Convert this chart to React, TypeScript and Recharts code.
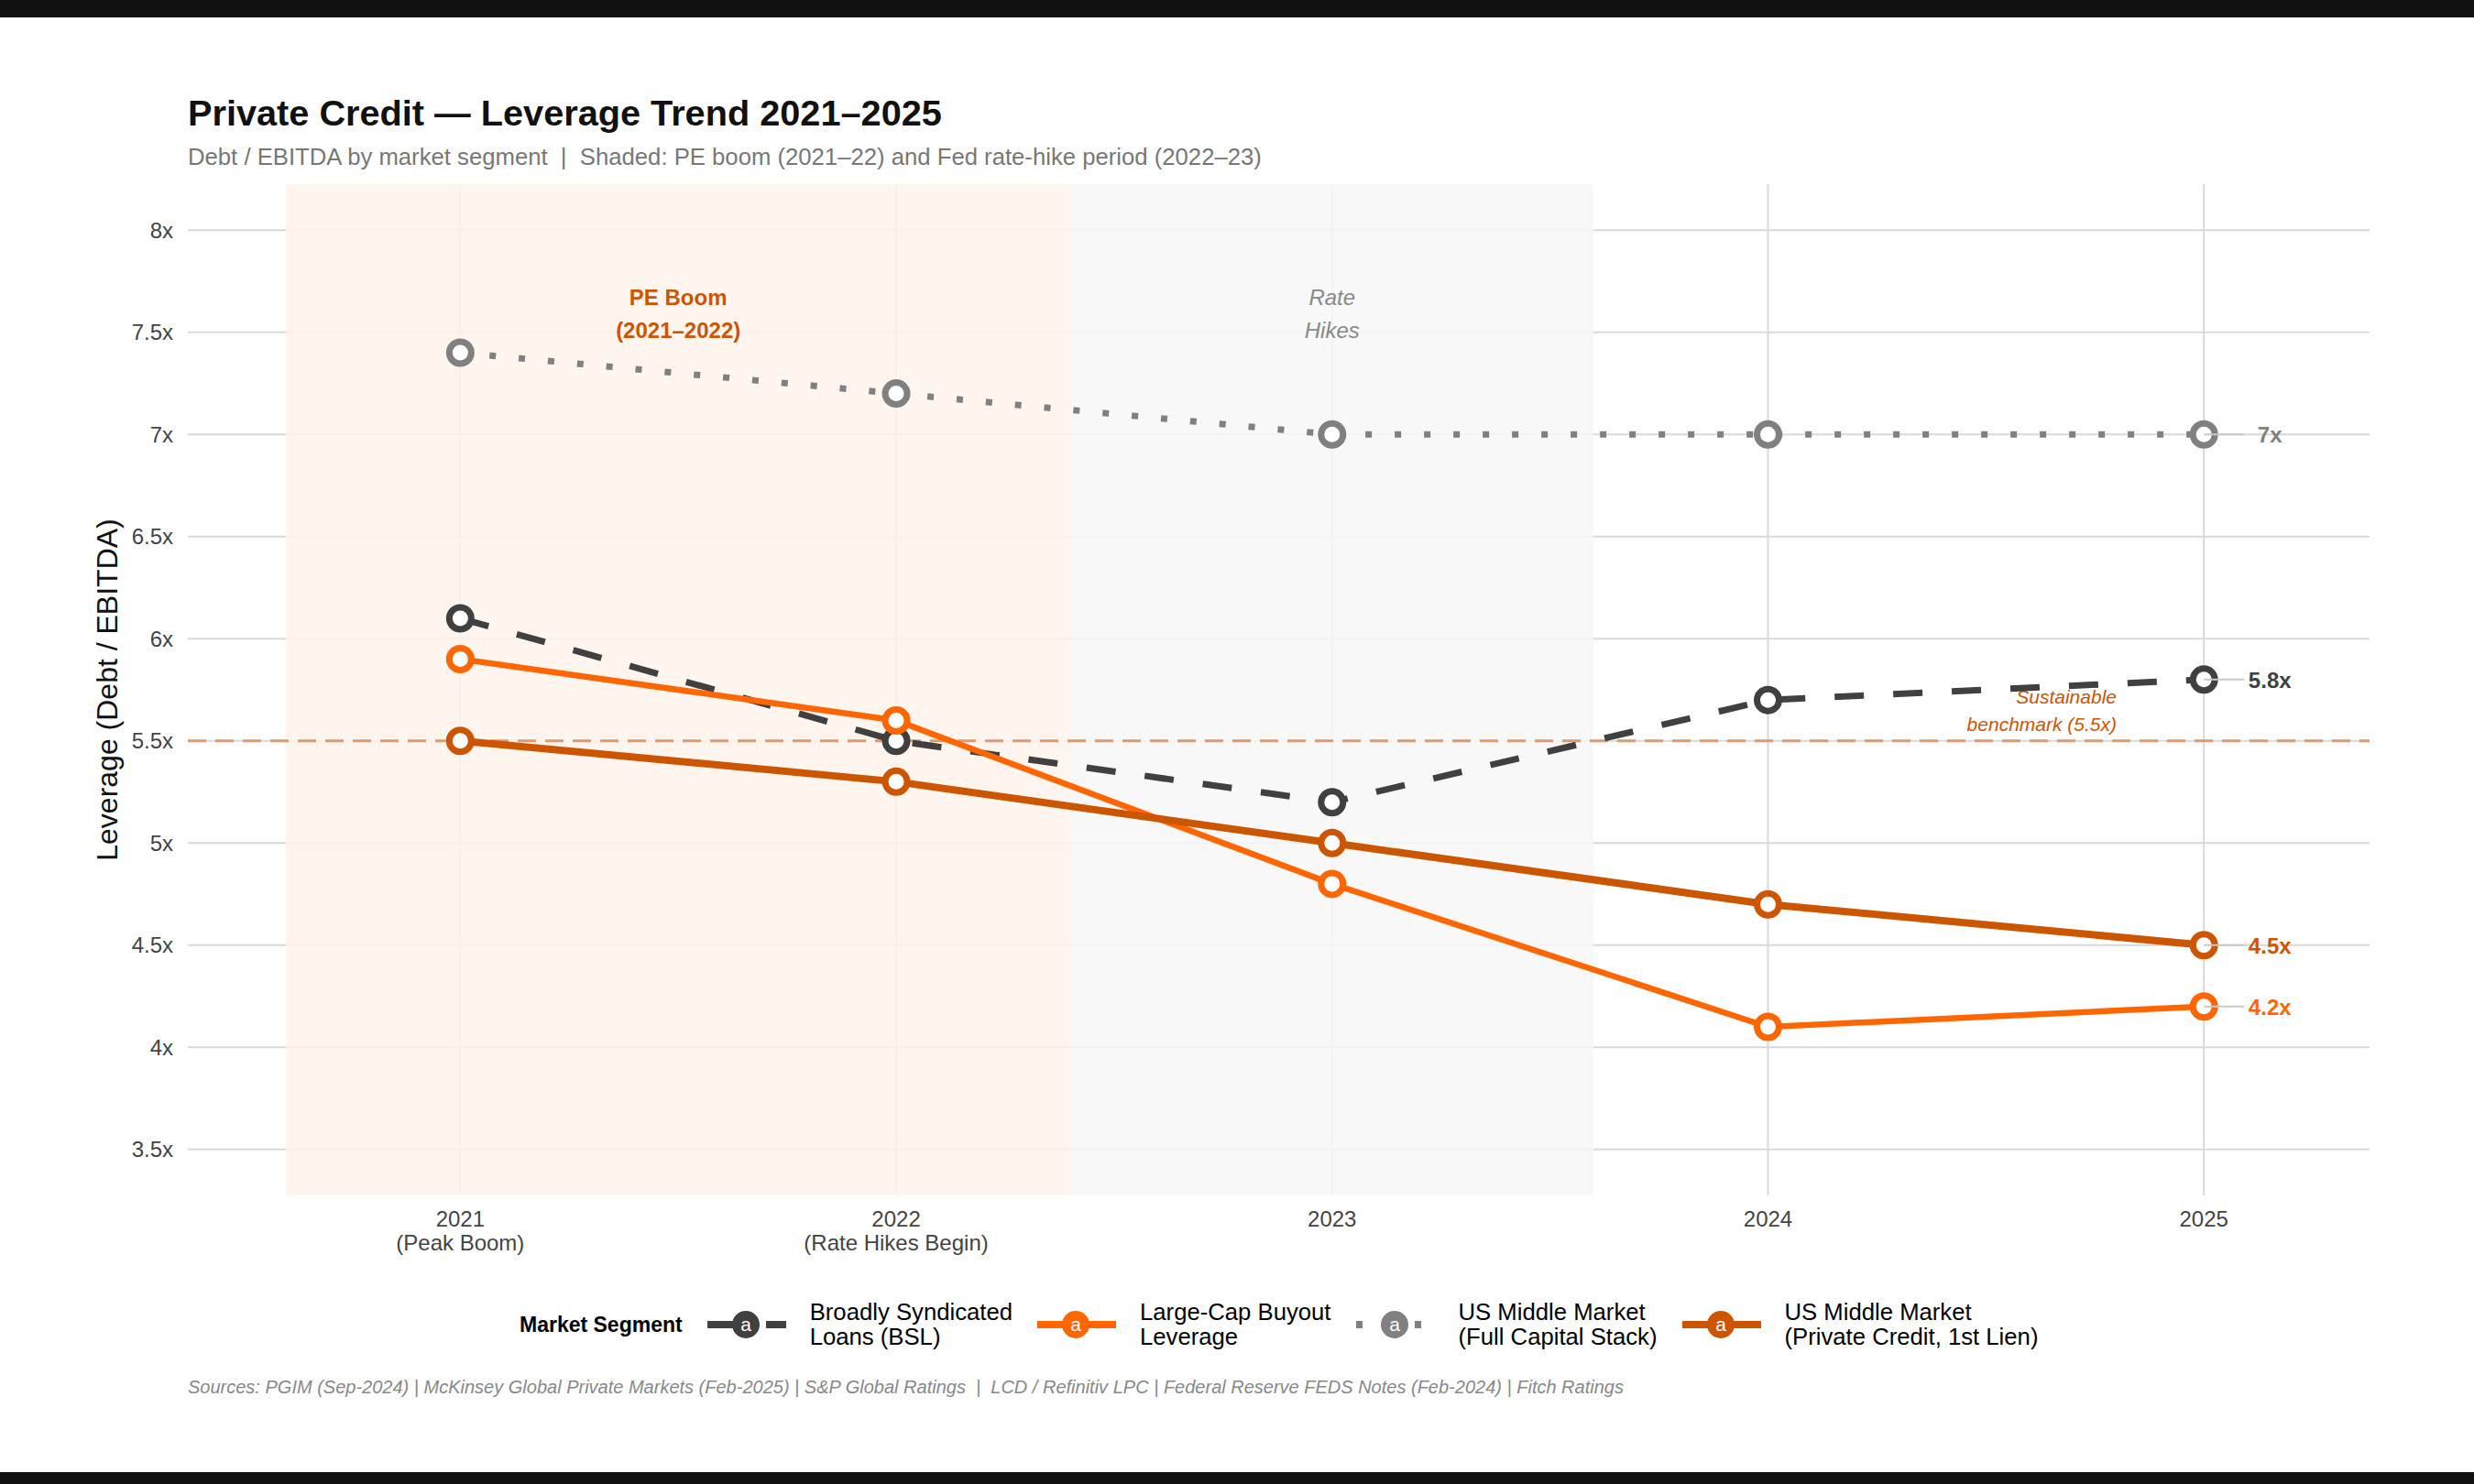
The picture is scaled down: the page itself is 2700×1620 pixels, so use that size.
import React from "react";
import {
  CartesianGrid,
  LabelList,
  Line,
  LineChart,
  ReferenceArea,
  ReferenceLine,
  XAxis,
  YAxis,
} from "recharts";

const FONT = '"Liberation Sans", Arial, Helvetica, sans-serif';

// values (Debt / EBITDA, x)
const years = [2021, 2022, 2023, 2024, 2025];
const yearNotes = ["(Peak Boom)", "(Rate Hikes Begin)", "", "", ""];
const bsl = [6.1, 5.5, 5.2, 5.7, 5.8];
const largeCap = [5.9, 5.6, 4.8, 4.1, 4.2];
const mmFull = [7.4, 7.2, 7.0, 7.0, 7.0];
const mmPrivate = [5.5, 5.3, 5.0, 4.7, 4.5];
const yTicks = [3.5, 4, 4.5, 5, 5.5, 6, 6.5, 7, 7.5, 8];
const benchmark = 5.5;
const peBoom = [2020.6, 2022.4];
const rateHikes = [2022.4, 2023.6];

const X_DOMAIN = [2020.375, 2025.38];
const Y_DOMAIN = [3.275, 8.225];

const rows = years.map((year, i) => ({
  year,
  bsl: bsl[i],
  largeCap: largeCap[i],
  mmFull: mmFull[i],
  mmPrivate: mmPrivate[i],
}));

// drawing order follows the legend order
const SERIES = [
  { key: "bsl", label: ["Broadly Syndicated", "Loans (BSL)"], color: "#404040", width: 7, dash: "32 32", keyDash: "29 35" },
  { key: "largeCap", label: ["Large-Cap Buyout", "Leverage"], color: "#FF6600", width: 6.5 },
  { key: "mmFull", label: ["US Middle Market", "(Full Capital Stack)"], color: "#808080", width: 7, dash: "7 25", keyDash: "7 25" },
  { key: "mmPrivate", label: ["US Middle Market", "(Private Credit, 1st Lien)"], color: "#CC5500", width: 8 },
];

const ringDot = (color: string) => (p: any) => (
  <circle key={`d-${p.index}`} cx={p.cx} cy={p.cy} r={12} fill="#fff" stroke={color} strokeWidth={7} />
);

const endLabel = (color: string) => (p: any) => {
  if (p.index !== years.length - 1) return null;
  const x = Number(p.x);
  const y = Number(p.y);
  return (
    <g>
      <line x1={x} x2={x + 44} y1={y} y2={y} stroke="#c8c8c8" strokeWidth={2} />
      <text x={x + 72} y={y + 9} textAnchor="middle" fontFamily={FONT} fontSize={24} fontWeight={700} fill={color}>
        {`${p.value}x`}
      </text>
    </g>
  );
};

const areaLabel = (lines: string[], style: any) => (p: any) => {
  const vb = p.viewBox || {};
  const cx = vb.x + vb.width / 2;
  return (
    <g>
      {lines.map((t, i) => (
        <text key={t} x={cx} y={vb.y + 132 + i * 36} textAnchor="middle" fontFamily={FONT} fontSize={24} {...style}>
          {t}
        </text>
      ))}
    </g>
  );
};

const benchmarkLabel = (p: any) => {
  const vb = p.viewBox || {};
  const x = vb.x + vb.width - 276;
  return (
    <g fontFamily={FONT} fontSize={21} fontStyle="italic" fill="#CC5500" textAnchor="end">
      <text x={x} y={vb.y - 41}>Sustainable</text>
      <text x={x} y={vb.y - 11}>benchmark (5.5x)</text>
    </g>
  );
};

const YearTick = (p: any) => {
  const i = years.indexOf(p.payload.value);
  return (
    <g fontFamily={FONT} fontSize={24} fill="#444" textAnchor="middle">
      <text x={p.x} y={p.y + 34}>{p.payload.value}</text>
      {yearNotes[i] ? <text x={p.x} y={p.y + 60}>{yearNotes[i]}</text> : null}
    </g>
  );
};

// grid only at the tick values (no frame at the plot edges)
const hLines = (g: any) => {
  const s = g.yAxis && g.yAxis.scale;
  return yTicks.map((t) =>
    typeof s === "function"
      ? s(t)
      : g.offset.top + ((Y_DOMAIN[1] - t) / (Y_DOMAIN[1] - Y_DOMAIN[0])) * g.offset.height
  );
};
const vLines = (g: any) => {
  const s = g.xAxis && g.xAxis.scale;
  return years.map((t) =>
    typeof s === "function"
      ? s(t)
      : g.offset.left + ((t - X_DOMAIN[0]) / (X_DOMAIN[1] - X_DOMAIN[0])) * g.offset.width
  );
};

function LegendKey({ color, dash }: { color: string; dash?: string }) {
  return (
    <svg width={86} height={40} style={{ display: "block" }}>
      <line x1={0} x2={86} y1={20} y2={20} stroke={color} strokeWidth={8} strokeDasharray={dash} />
      <circle cx={42} cy={20} r={15} fill={color} />
      <text x={42} y={27} textAnchor="middle" fontFamily={FONT} fontSize={21} fill="#fff">a</text>
    </svg>
  );
}

export default function App() {
  return (
    <div style={{ position: "absolute", left: 0, top: 0, width: 2700, height: 1620, background: "#fff", fontFamily: FONT }}>
      <div style={{ position: "absolute", left: 0, top: 0, width: 2700, height: 19, background: "#111" }} />
      <div style={{ position: "absolute", left: 0, top: 1607, width: 2700, height: 13, background: "#111" }} />

      <LineChart width={2700} height={1620} data={rows} margin={{ top: 201, right: 114, bottom: 255, left: 105 }}>
        <CartesianGrid
          stroke="#D9D9D9"
          strokeWidth={2}
          horizontalCoordinatesGenerator={hLines}
          verticalCoordinatesGenerator={vLines}
        />
        <ReferenceArea
          x1={peBoom[0]}
          x2={peBoom[1]}
          fill="#FEF3EC"
          fillOpacity={0.85}
          stroke="none"
          label={areaLabel(["PE Boom", "(2021–2022)"], { fill: "#CC5500", fontWeight: 700 })}
        />
        <ReferenceArea
          x1={rateHikes[0]}
          x2={rateHikes[1]}
          fill="#F7F7F7"
          fillOpacity={0.85}
          stroke="none"
          label={areaLabel(["Rate", "Hikes"], { fill: "#888", fontStyle: "italic" })}
        />
        <XAxis
          dataKey="year"
          type="number"
          domain={X_DOMAIN}
          allowDataOverflow
          ticks={years}
          tick={<YearTick />}
          tickSize={0}
          tickMargin={0}
          axisLine={false}
          tickLine={false}
          height={60}
        />
        <YAxis
          type="number"
          domain={Y_DOMAIN}
          allowDataOverflow
          ticks={yTicks}
          tickFormatter={(v: number) => `${v}x`}
          tick={{ fontSize: 24, fill: "#444", fontFamily: FONT }}
          tickSize={0}
          tickMargin={16}
          axisLine={false}
          tickLine={false}
          width={100}
        />
        <ReferenceLine
          y={benchmark}
          stroke="#E0996A"
          strokeWidth={3}
          strokeDasharray="20 10"
          label={benchmarkLabel}
        />
        {SERIES.map((s) => (
          <Line
            key={s.key}
            dataKey={s.key}
            type="linear"
            stroke={s.color}
            strokeWidth={s.width}
            strokeDasharray={s.dash}
            dot={ringDot(s.color)}
            activeDot={false}
            isAnimationActive={false}
          >
            <LabelList dataKey={s.key} content={endLabel(s.color)} />
          </Line>
        ))}
      </LineChart>

      <svg width={2700} height={1620} style={{ position: "absolute", left: 0, top: 0, pointerEvents: "none" }}>
        <text x={205} y={137} fontFamily={FONT} fontSize={39.7} fontWeight={700} fill="#111">
          Private Credit — Leverage Trend 2021–2025
        </text>
        <text x={205} y={180} fontFamily={FONT} fontSize={25.7} fill="#777" style={{ whiteSpace: "pre" }}>
          {"Debt / EBITDA by market segment  |  Shaded: PE boom (2021–22) and Fed rate-hike period (2022–23)"}
        </text>
        <text
          x={0}
          y={0}
          transform="translate(128 753) rotate(-90)"
          textAnchor="middle"
          fontFamily={FONT}
          fontSize={32}
          fill="#111"
        >
          Leverage (Debt / EBITDA)
        </text>
        <text x={205} y={1521} fontFamily={FONT} fontSize={20} fontStyle="italic" fill="#888" style={{ whiteSpace: "pre" }}>
          {"Sources: PGIM (Sep-2024) | McKinsey Global Private Markets (Feb-2025) | S&P Global Ratings  |  LCD / Refinitiv LPC | Federal Reserve FEDS Notes (Feb-2024) | Fitch Ratings"}
        </text>
      </svg>

      <div style={{ position: "absolute", left: 567, top: 1419, height: 54, display: "flex", alignItems: "center", color: "#000" }}>
        <div style={{ fontSize: 23, fontWeight: 700, marginRight: 27 }}>Market Segment</div>
        {SERIES.map((s) => (
          <div key={s.key} style={{ display: "flex", alignItems: "center", marginRight: 27 }}>
            <LegendKey color={s.color} dash={s.keyDash} />
            <div style={{ marginLeft: 26, fontSize: 25.7, lineHeight: "27px", whiteSpace: "nowrap" }}>
              {s.label[0]}
              <br />
              {s.label[1]}
            </div>
          </div>
        ))}
      </div>
    </div>
  );
}
